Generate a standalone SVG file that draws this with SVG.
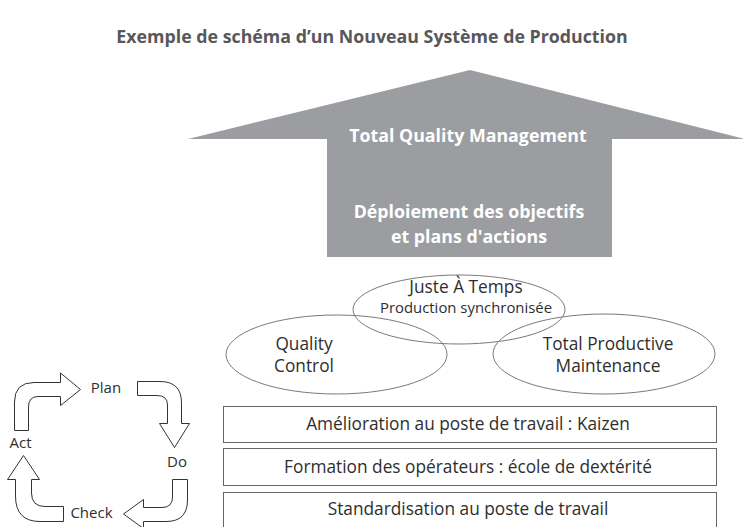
<svg xmlns="http://www.w3.org/2000/svg" width="743" height="527" viewBox="0 0 743 527">
<style>
text{font-family:"Open Sans","Noto Sans","Liberation Sans",sans-serif;fill:#2e2e2e;text-anchor:middle}
.title{font-size:17.8px;font-weight:bold;fill:#58585a}
.w{fill:#fff;font-weight:bold;font-size:17.8px}
.oval{fill:none;stroke:#7a7a7a;stroke-width:1}
.box{fill:#fff;stroke:#666;stroke-width:1}
.bt{font-size:17.3px}
.et{font-size:17.3px}
.pd{fill:#fff;stroke:#333;stroke-width:1;stroke-linejoin:miter}
.pt{font-size:15px}
</style>
<rect width="743" height="527" fill="#fff"/>
<text class="title" x="372" y="43">Exemple de schéma d’un Nouveau Système de Production</text>

<g id="tqm">
<polygon points="188,139 470,70 745,139 612,139 612,257 327,257 327,139" fill="#9c9da1"/>
<text class="w" x="468" y="142">Total Quality Management</text>
<text class="w" x="469" y="218">Déploiement des objectifs</text>
<text class="w" x="469" y="243">et plans d'actions</text>
</g>

<g id="jat">
<ellipse class="oval" cx="459" cy="309.5" rx="106" ry="34.5"/>
<text class="et" x="466" y="293">Juste À Temps</text>
<text x="466" y="313" font-size="14.9">Production synchronisée</text>
</g>
<g id="qc">
<ellipse class="oval" cx="336.5" cy="354.5" rx="110.5" ry="39.5"/>
<text class="et" x="304" y="350">Quality</text>
<text class="et" x="304" y="372">Control</text>
</g>
<g id="tpm">
<ellipse class="oval" cx="604" cy="354" rx="111" ry="40"/>
<text class="et" x="608" y="350">Total Productive</text>
<text class="et" x="608" y="372">Maintenance</text>
</g>

<g id="kaizen">
<rect class="box" x="223.5" y="406.5" width="493" height="36"/>
<text class="bt" x="468" y="430">Amélioration au poste de travail : Kaizen</text>
</g>
<g id="formation">
<rect class="box" x="223.5" y="448.5" width="493" height="37"/>
<text class="bt" x="468" y="473">Formation des opérateurs : école de dextérité</text>
</g>
<g id="standard">
<rect class="box" x="223.5" y="492.5" width="493" height="40"/>
<text class="bt" x="468" y="515">Standardisation au poste de travail</text>
</g>

<g id="pdca-labels">
<text class="pt" x="106" y="393">Plan</text>
<text class="pt" x="20.5" y="448">Act</text>
<text class="pt" x="177" y="467">Do</text>
<text class="pt" x="91.5" y="518">Check</text>
</g>

<g id="connectors">
<path class="pd" d="M14.5,430.5 L14.5,402 Q14.5,382.5 34,382.5 L60.5,382.5 L60.5,373 L80.5,389.5 L60.5,405.5 L60.5,396.5 L38,396.5 Q28.5,396.5 28.5,407 L28.5,430.5 Z"/>
<path class="pd" d="M137.5,381.5 L160,381.5 Q181.5,381.5 181.5,403 L181.5,423.5 L189.5,423.5 L174.5,447.5 L159.5,423.5 L167.5,423.5 L167.5,405 Q167.5,395.5 157,395.5 L137.5,395.5 Z"/>
<path class="pd" d="M172.5,479.5 L187.5,479.5 L187.5,500 Q187.5,521.5 166,521.5 L143.5,521.5 L143.5,528.5 L123.5,514 L143.5,499.5 L143.5,507.5 L162,507.5 Q172.5,507.5 172.5,497 Z"/>
<path class="pd" d="M63.5,506.5 L45,506.5 Q31.5,506.5 31.5,493 L31.5,479.5 L39.5,479.5 L23.5,455.5 L7.5,479.5 L15.5,479.5 L15.5,496 Q15.5,521.5 40,521.5 L63.5,521.5 Z"/>
</g>
</svg>
